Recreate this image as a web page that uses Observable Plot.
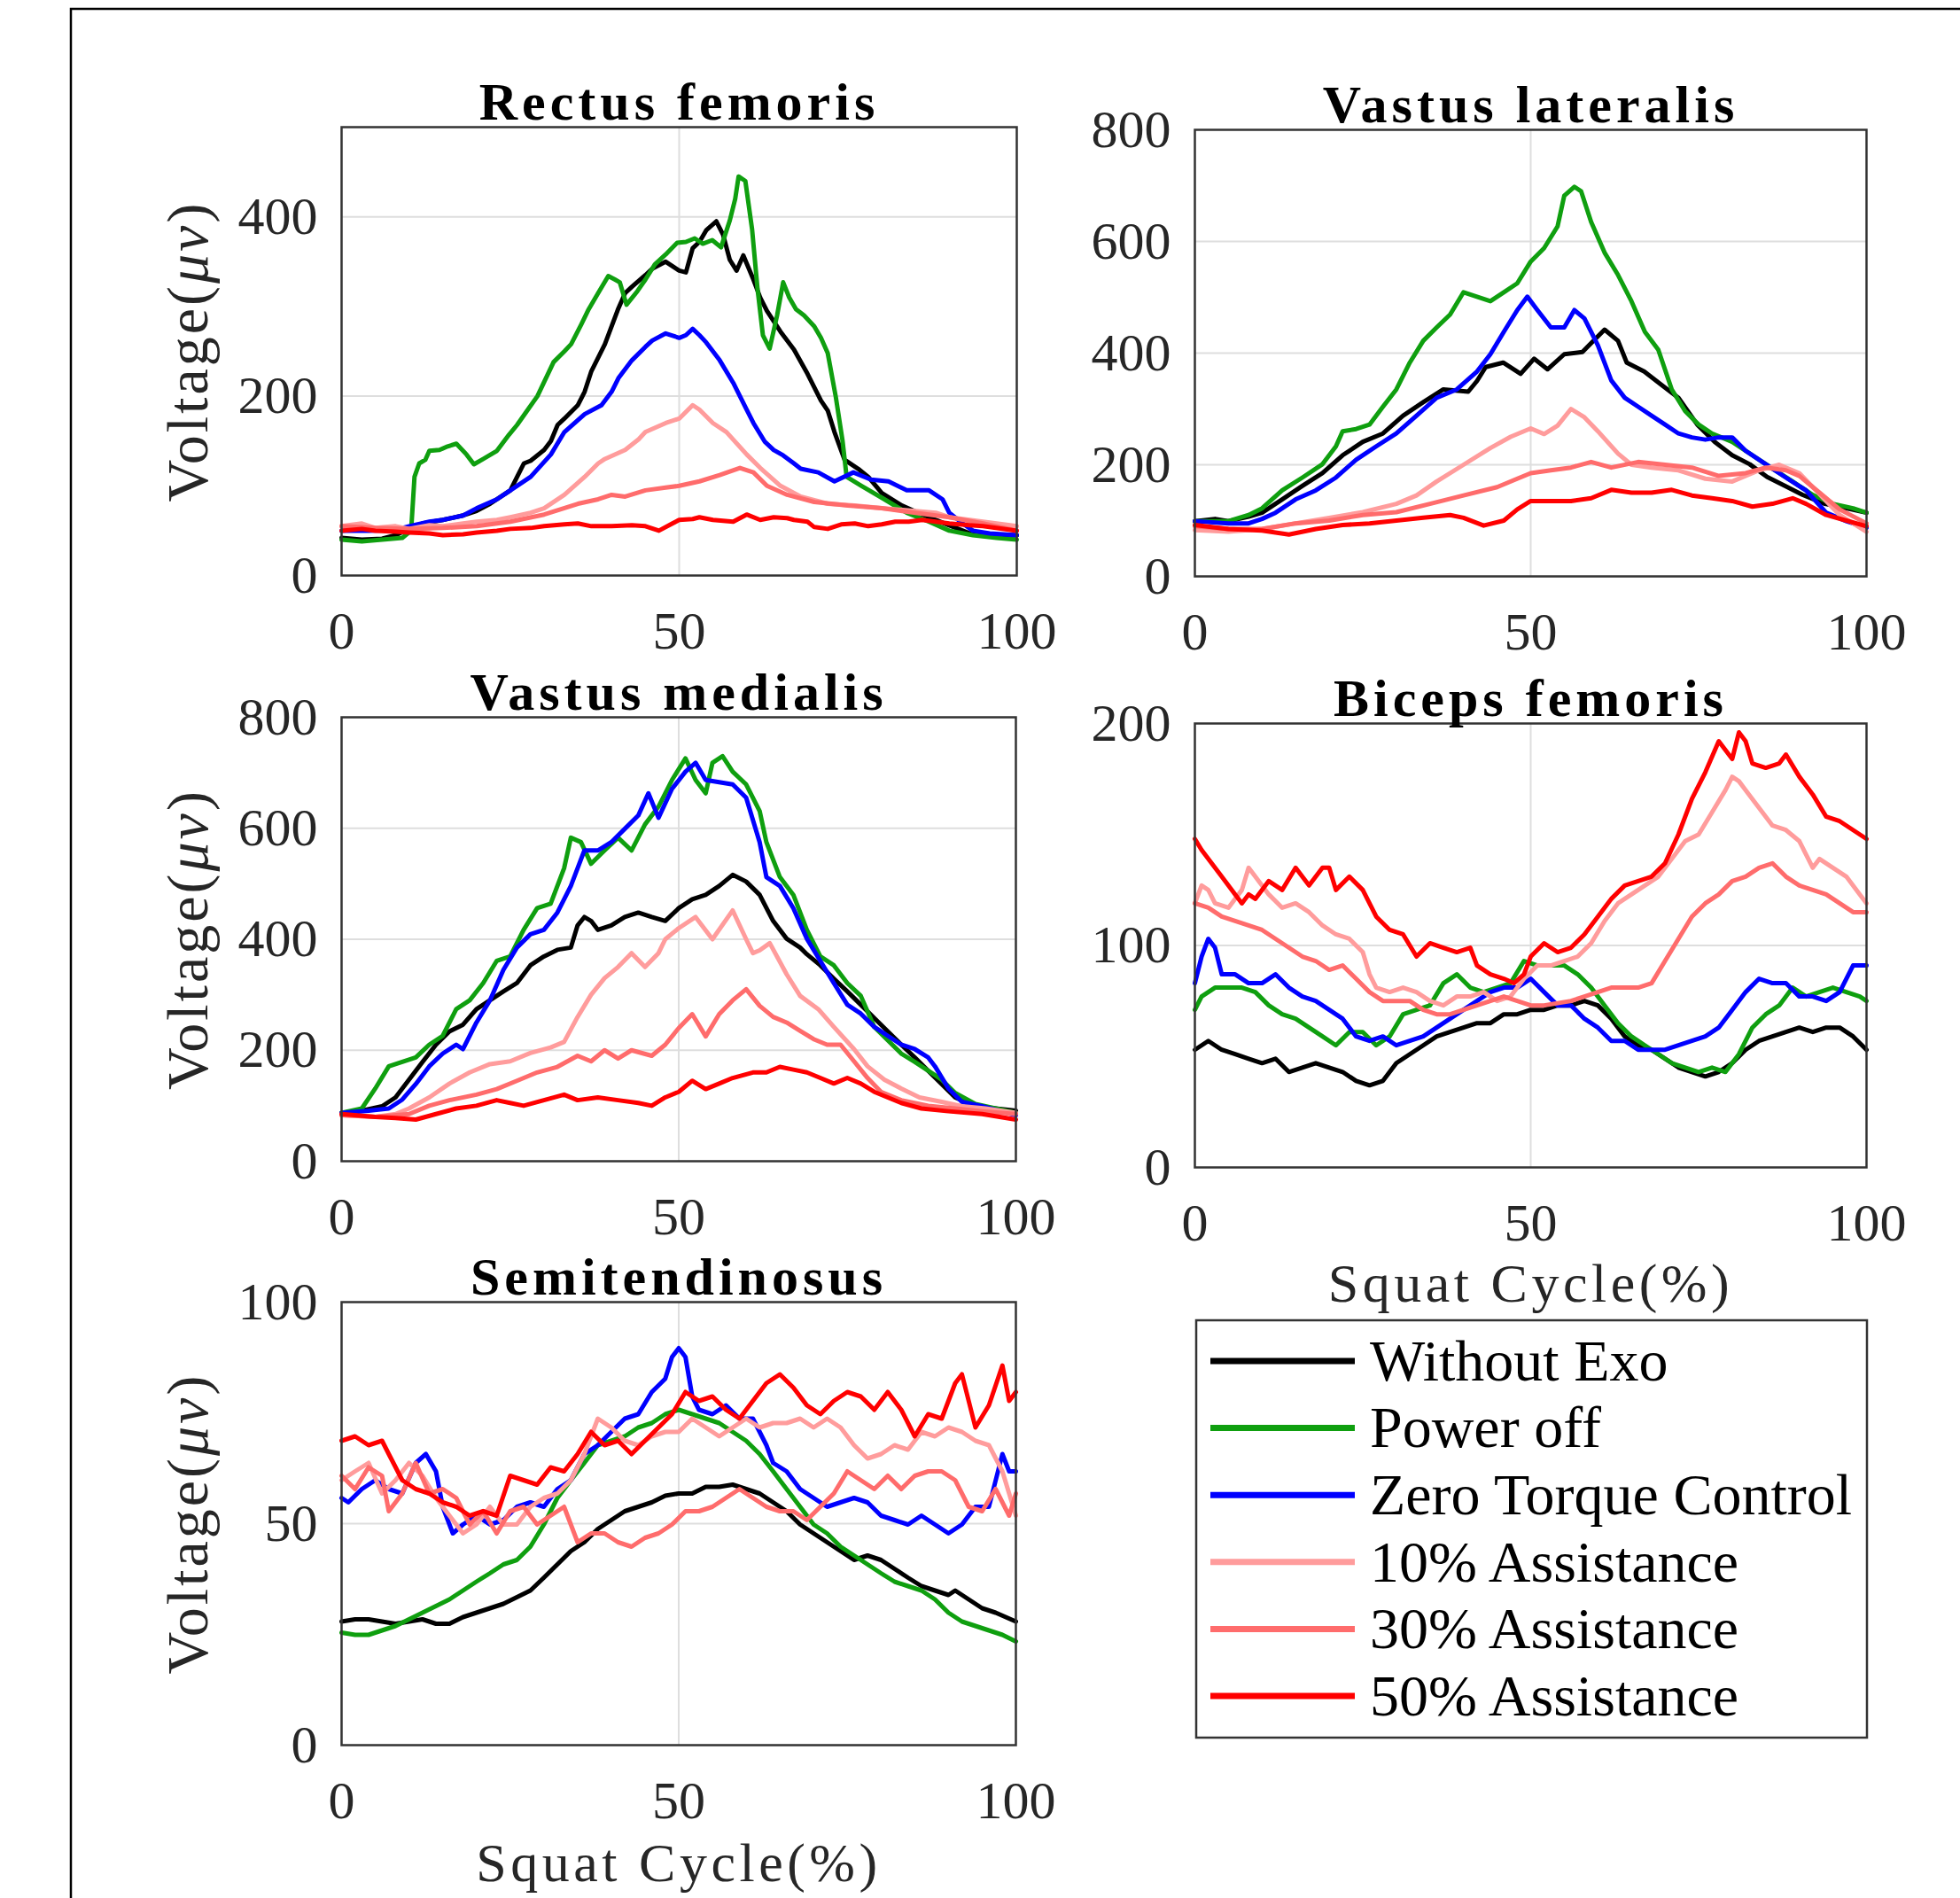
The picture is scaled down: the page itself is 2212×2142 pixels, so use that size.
<!DOCTYPE html>
<html>
<head>
<meta charset="utf-8">
<script src="https://cdn.jsdelivr.net/npm/d3@7"></script>
<script src="https://cdn.jsdelivr.net/npm/@observablehq/plot@0.6"></script>
<style>
  html, body { margin: 0; padding: 0; background: #fff; }
  #root { position: relative; width: 2212px; height: 2142px; overflow: hidden; background: #fff; }
  .panel { position: absolute; }
  #overlay { position: absolute; left: 0; top: 0; }
</style>
</head>
<body>
<div id="root"></div>
<script>
// ---------- categories / styling ----------
const conditions = ["Without Exo", "Power off", "Zero Torque Control", "10% Assistance", "30% Assistance", "50% Assistance"];
const colors = ["#000000", "#0f9f0f", "#0000ff", "#ff9c9c", "#ff6c6c", "#ff0000"];
const xTicks = [0, 50, 100];
const xLabel = "Squat Cycle(%)";
const yLabel = "Voltage(μv)";

// ---------- Rectus femoris ----------
const rfTicks = [0, 200, 400];
const rfWithoutExo = [[0,42],[3,40],[6,41],[8,45],[10,52],[12,58],[15,62],[18,67],[20,72],[22,80],[25,95],[26,110],[27,125],[28,128],[30,140],[31,150],[32,168],[33,175],[35,190],[36,205],[37,228],[39,258],[41,298],[42,315],[43,322],[45,335],[46,342],[48,350],[49,345],[50,340],[51,338],[52,365],[53,372],[54,385],[55.5,395],[56.5,380],[57.5,352],[58.5,340],[59.5,357],[61,330],[62,310],[63,295],[65,272],[67,252],[69,225],[71,195],[72,184],[73,160],[74.5,129],[76.5,119],[78,110],[80,92],[83,78],[86,68],[90,56],[93,47],[96,45],[100,45]];
const rfPowerOff = [[0,40],[3,38],[6,40],[9,42],[10.3,50],[10.8,110],[11.5,125],[12.4,129],[13,139],[14.5,140],[15.7,144],[17,147],[18.5,135],[19.6,124],[21,130],[23,139],[24.8,157],[26,168],[27.5,184],[29,200],[31.4,238],[33,250],[34,258],[35.5,280],[36.6,297],[38,315],[39.5,334],[40.5,330],[41.2,327],[42.2,302],[43.8,317],[45,330],[46.4,347],[48,358],[49.7,371],[51,372],[52.3,376],[53.5,370],[54.9,374],[56.2,366],[57.5,396],[58.3,420],[58.8,445],[59.8,440],[60.8,386],[61.6,320],[62.4,268],[63.4,253],[64.5,290],[65.4,327],[66.3,310],[67.3,297],[68.5,290],[70,278],[71,265],[72,248],[73.2,199],[74.2,150],[74.8,110],[77,100],[80.4,85],[83.7,70],[87,60],[90,50],[93.5,45],[97,42],[100,40]];
const rfZeroTorque = [[0,50],[4,50],[8,51],[10,55],[13,60],[15,62],[18,67],[20,75],[23,85],[25,95],[28,110],[31,135],[33,160],[36,180],[38.5,190],[40,205],[41,220],[43,240],[45,255],[46,262],[48,270],[50,265],[51,268],[52,275],[53,268],[54,260],[56,240],[58,215],[59,200],[60,185],[61,170],[62.7,149],[64,140],[65.4,134],[67,125],[68,119],[70.6,115],[73,105],[75.8,115],[78.4,107],[81,105],[83.7,95],[87,95],[89,85],[90,70],[92,58],[93.5,50],[96,47],[100,45]];
const rfAssist10 = [[0,55],[3,58],[5,53],[8,55],[10,52],[13,56],[15,55],[18,58],[20,60],[23,62],[25,65],[28,70],[30,75],[33,90],[36,110],[38,125],[39,130],[42,140],[44,152],[45,160],[48,170],[50,175],[52,190],[53,185],[55,170],[57,160],[60,135],[62,120],[65,100],[68,88],[72,80],[76,78],[80,75],[85,72],[88,70],[90,65],[95,60],[100,55]];
const rfAssist30 = [[0,55],[5,53],[10,52],[15,53],[20,55],[25,60],[30,68],[35,80],[38,85],[40,90],[42,88],[45,95],[48,98],[50,100],[53,105],[56,112],[59,120],[61,115],[63,100],[66,90],[70,82],[75,78],[80,75],[85,70],[90,65],[95,58],[100,50]];
const rfAssist50 = [[0,50],[3,52],[5,50],[8,49],[10,48],[13,47],[15,45],[18,46],[20,48],[23,50],[25,52],[28,53],[30,55],[33,57],[35,58],[37,55],[40,55],[43,56],[45,55],[47,50],[49,58],[50,62],[52,63],[53,65],[55,62],[58,60],[60,68],[62,62],[64,65],[66,64],[67,62],[69,60],[70,54],[72,52],[74,57],[76,58],[78,55],[80,57],[82,60],[84,60],[86,62],[88,60],[90,58],[93,56],[95,55],[100,50]];

// ---------- Vastus lateralis ----------
const vlTicks = [0, 200, 400, 600, 800];
const vlWithoutExo = [[0,99],[3,103],[5,99],[8,107],[10,114],[13,138],[16,162],[19,185],[22,217],[25,241],[28,256],[31,288],[34,312],[37,335],[40.7,331],[42,350],[43.3,375],[45.9,383],[48.5,363],[50.5,390],[52.5,371],[55,398],[57.7,402],[59,418],[61,442],[63,422],[64.3,383],[66.9,367],[69.5,343],[72,320],[74.8,272],[77.4,241],[80,217],[82.6,201],[85.2,178],[87.9,162],[90.5,146],[93.8,130],[97,122],[100,114]];
const vlPowerOff = [[0,99],[5,99],[8,110],[10,122],[13,154],[16,177],[19,201],[21,233],[22,260],[24,264],[26,272],[28,304],[30,335],[32,383],[34,422],[36,446],[38,469],[40,509],[42,501],[44,493],[46,509],[48,525],[50,564],[52,588],[54,627],[55,682],[56.5,698],[57.5,690],[59,635],[61,580],[63,540],[65,493],[67,438],[69,406],[71,335],[73,296],[75,272],[77,256],[80,241],[83,217],[86,193],[89,170],[92,146],[95,130],[98,122],[100,114]];
const vlZeroTorque = [[0,99],[5,95],[8,95],[10,103],[12,114],[15,138],[18,154],[21,177],[24,209],[27,233],[30,256],[33,288],[36,320],[39,335],[42,367],[44,398],[46,438],[48,477],[49.5,501],[51,477],[53,446],[55,446],[56.5,477],[58,462],[60,414],[62,351],[64,320],[66,304],[68,288],[70,272],[72,256],[74,249],[76,245],[78,249],[80,249],[82,225],[85,201],[88,177],[91,154],[94,114],[97,99],[100,87]];
const vlAssist10 = [[0,83],[5,80],[10,85],[15,95],[20,105],[25,115],[30,130],[33,145],[36,170],[40,200],[44,230],[47,250],[50,265],[52,255],[54,270],[56,300],[58,285],[60,260],[63,220],[65,200],[68,195],[72,190],[76,175],[80,170],[84,190],[87,200],[90,185],[92,160],[96,110],[100,80]];
const vlAssist30 = [[0,90],[5,85],[10,85],[15,95],[20,100],[25,110],[30,115],[35,130],[40,145],[45,160],[48,175],[50,185],[53,190],[56,195],[59,205],[62,195],[66,205],[70,200],[74,195],[78,180],[82,185],[85,195],[88,190],[90,180],[93,150],[96,120],[100,95]];
const vlAssist50 = [[0,92],[5,85],[10,82],[14,75],[18,85],[22,92],[26,95],[30,100],[34,105],[38,110],[40,105],[43,91],[46,100],[48,120],[50,135],[53,135],[56,135],[59,140],[62,155],[65,150],[68,150],[71,155],[74,145],[77,140],[80,135],[83,125],[86,130],[89,140],[91,130],[94,110],[97,100],[100,90]];

// ---------- Vastus medialis ----------
const vmTicks = [0, 200, 400, 600, 800];
const vmWithoutExo = [[0,87],[3,91],[6,99],[8,115],[10,147],[12,179],[14,210],[16,234],[18,246],[20,274],[22,290],[24,306],[26,321],[28,353],[30,369],[32,381],[34,385],[35,425],[36,440],[37,433],[38,417],[40,425],[42,440],[44,448],[46,440],[48,433],[50,456],[52,472],[54,480],[56,496],[58,516],[60,504],[62,480],[64,433],[66,401],[68,385],[69,373],[71,353],[73,329],[75,306],[77,282],[79,258],[81,234],[83,210],[85,187],[87,163],[89,139],[91,115],[94,99],[97,95],[100,91]];
const vmPowerOff = [[0,87],[3,95],[5,131],[7,171],[9,179],[11,187],[13,210],[15,226],[17,274],[19,290],[21,321],[23,361],[25,369],[27,417],[29,456],[31,464],[33,528],[34,583],[35.5,575],[37,536],[39,560],[41,583],[43,560],[45,607],[47,639],[49,687],[51,726],[52.5,687],[54,663],[55,718],[56.5,730],[58,702],[60,679],[62,631],[63,575],[65,512],[67,480],[69,417],[71,369],[73,353],[75,321],[77,298],[79,242],[81,218],[83,194],[85,179],[87,163],[89,147],[91,123],[94,103],[97,95],[100,87]];
const vmZeroTorque = [[0,87],[4,91],[7,95],[9,111],[11,139],[13,171],[15,194],[17,210],[18,202],[20,250],[22,290],[24,345],[26,385],[28,409],[30,417],[32,448],[34,496],[36,560],[38,560],[40,575],[42,599],[44,623],[45.5,663],[47,619],[49,671],[51,702],[52.5,718],[54,687],[56,683],[58,679],[60,655],[62,575],[63,512],[65,496],[67,456],[69,401],[71,361],[73,321],[75,282],[77,266],[79,242],[81,226],[83,210],[85,202],[87,187],[88,171],[90,131],[92,107],[95,99],[100,83]];
const vmAssist10 = [[0,83],[5,80],[8,85],[10,95],[13,115],[16,140],[19,160],[22,175],[25,180],[28,195],[31,205],[33,215],[35,260],[37,300],[39,330],[41,350],[43,375],[45,350],[47,375],[48,400],[50,420],[52.5,440],[55,400],[58,452],[60,400],[61,375],[62,380],[63.5,393],[66,337],[68,298],[70.7,274],[73,242],[76,202],[78,171],[80.5,147],[83,131],[85.7,115],[89,107],[92,99],[95.5,95],[100,87]];
const vmAssist30 = [[0,83],[5,80],[10,85],[13,100],[16,110],[20,120],[23,130],[26,145],[29,160],[32,170],[35,190],[37,180],[39,200],[41,185],[43,200],[46,190],[48,210],[50,240],[52,265],[54,225],[56,265],[58,290],[60,310],[62,280],[64,260],[66,250],[68,235],[70,220],[72,210],[74,210],[76,180],[78,150],[80,125],[83,110],[87,100],[91,95],[95,90],[100,85]];
const vmAssist50 = [[0,85],[5,80],[8,78],[11,75],[14,85],[17,95],[20,100],[23,110],[25,105],[27,100],[30,110],[33,120],[35,110],[38,115],[41,110],[44,105],[46,100],[48,115],[50,125],[52,145],[54,130],[56,140],[58,150],[61,160],[63,160],[65,170],[67,165],[69,160],[71,150],[73,140],[75,150],[77,140],[79,125],[81,115],[83,105],[86,95],[90,90],[95,85],[100,75]];

// ---------- Biceps femoris ----------
const bfTicks = [0, 100, 200];
const bfWithoutExo = [[0,53],[2,57],[4,53],[6,51],[8,49],[10,47],[12,49],[14,43],[16,45],[18,47],[20,45],[22,43],[24,39],[26,37],[28,39],[30,47],[32,51],[34,55],[36,59],[38,61],[40,63],[42,65],[44,65],[46,69],[48,69],[50,71],[52,71],[54,73],[56,73],[58,75],[60,73],[62,67],[64,59],[66,55],[68,53],[70,49],[72,45],[74,43],[76,41],[78,43],[80,47],[82,53],[84,57],[86,59],[88,61],[90,63],[92,61],[94,63],[96,63],[98,59],[100,53]];
const bfPowerOff = [[0,71],[1,77],[3,81],[5,81],[7,81],[9,79],[11,73],[13,69],[15,67],[17,63],[19,59],[21,55],[23,61],[25,61],[27,55],[29,59],[31,69],[33,71],[35,73],[37,83],[39,87],[41,81],[43,79],[45,81],[47,83],[49,93],[51,91],[53,91],[55,91],[57,87],[59,81],[61,73],[63,65],[65,59],[67,55],[69,51],[71,47],[73,45],[75,43],[77,45],[79,43],[81,51],[83,63],[85,69],[87,73],[89,81],[91,77],[93,79],[95,81],[97,79],[99,77],[100,75]];
const bfZeroTorque = [[0,83],[1,95],[2,103],[3,99],[4,87],[6,87],[8,83],[10,83],[12,87],[14,81],[16,77],[18,75],[20,71],[22,67],[24,59],[26,57],[28,59],[30,55],[32,57],[34,59],[36,63],[38,67],[40,71],[42,75],[44,79],[46,81],[48,81],[50,85],[52,79],[54,73],[56,73],[58,67],[60,63],[62,57],[64,57],[66,53],[68,53],[70,53],[72,55],[74,57],[76,59],[78,63],[80,71],[82,79],[84,85],[86,83],[88,83],[90,77],[92,77],[94,75],[96,79],[98,91],[100,91]];
const bfAssist10 = [[0,119],[1,127],[2,125],[3,119],[5,117],[7,125],[8,135],[9,131],[11,123],[13,117],[15,119],[17,115],[19,109],[21,105],[23,103],[25,97],[26,87],[27,81],[29,79],[31,81],[33,79],[35,75],[37,73],[39,77],[41,77],[43,79],[45,75],[47,77],[49,85],[51,91],[53,91],[55,93],[57,95],[59,101],[61,111],[63,119],[65,123],[67,127],[69,131],[71,139],[73,147],[75,150],[77,160],[79,170],[80,176],[81,174],[82,170],[84,162],[86,154],[88,152],[90,147],[92,135],[93,139],[95,135],[97,131],[99,123],[100,119]];
const bfAssist30 = [[0,119],[2,117],[4,113],[6,111],[8,109],[10,107],[12,103],[14,99],[16,95],[18,93],[20,89],[22,91],[24,85],[26,79],[28,75],[30,75],[32,75],[34,71],[36,69],[38,69],[40,71],[42,73],[44,75],[46,77],[48,75],[50,73],[52,73],[54,74],[56,75],[58,77],[60,79],[62,81],[64,81],[66,81],[68,83],[70,93],[72,103],[74,113],[76,119],[78,123],[80,129],[82,131],[84,135],[86,137],[88,131],[90,127],[92,125],[94,123],[96,119],[98,115],[100,115]];
const bfAssist50 = [[0,148],[1,143],[2,139],[3,135],[4,131],[6,123],[7,119],[8,123],[9,121],[11,129],[13,125],[15,135],[17,127],[19,135],[20,135],[21,125],[23,131],[25,125],[27,113],[29,107],[31,105],[33,95],[35,101],[37,99],[39,97],[41,99],[42,91],[44,87],[46,85],[47.5,83],[49,87],[50,95],[52,101],[54,97],[56,99],[58,105],[60,113],[62,121],[64,127],[66,129],[68,131],[70,137],[72,150],[74,166],[76,178],[78,192],[79,188],[80,184],[81,196],[82,192],[83,182],[85,180],[87,182],[88,186],[90,176],[92,168],[94,158],[96,156],[98,152],[100,148]];

// ---------- Semitendinosus ----------
const stTicks = [0, 50, 100];
const stWithoutExo = [[0,27.9],[2,28.4],[4,28.4],[6,27.9],[8,27.4],[10,27.9],[12,28.4],[14,27.4],[16,27.4],[18,28.9],[20,29.9],[22,30.9],[24,31.9],[26,33.4],[28,34.9],[30,37.8],[32,40.8],[34,43.8],[36,45.8],[38,48.8],[40,50.8],[42,52.8],[44,53.8],[46,54.8],[48,56.3],[50,56.8],[52,56.8],[54,58.3],[56,58.3],[58,58.8],[60,57.8],[62,56.8],[64,54.8],[66,52.8],[68,49.8],[70,47.8],[72,45.8],[74,43.8],[76,41.8],[78,42.8],[80,41.8],[82,39.8],[84,37.8],[86,35.9],[88,34.9],[90,33.9],[91,34.9],[93,32.9],[95,30.9],[97,29.9],[100,27.9]];
const stPowerOff = [[0,25.4],[2,24.9],[4,24.9],[6,25.9],[8,26.9],[10,28.4],[12,29.9],[14,31.4],[16,32.9],[18,34.9],[20,36.9],[22,38.8],[24,40.8],[26,41.8],[28,44.8],[30,49.8],[32,55.8],[34,59.8],[36,63.7],[38,67.7],[40,68.7],[42,69.7],[44,71.7],[46,72.7],[48,74.7],[50,75.7],[52,74.7],[54,73.7],[56,72.7],[58,70.7],[60,68.7],[62,65.7],[64,61.8],[66,57.8],[68,53.8],[70,49.8],[72,47.8],[74,44.8],[76,42.8],[78,40.8],[80,38.8],[82,36.9],[84,35.9],[86,34.9],[88,32.9],[90,29.9],[92,27.9],[94,26.9],[96,25.9],[98,24.9],[100,23.4]];
const stZeroTorque = [[0,55.8],[1,54.8],[3,57.8],[5,59.8],[7,57.8],[9,56.8],[11,63.7],[12.5,65.7],[14,61.8],[15,53.8],[16.5,47.8],[18,49.8],[20,51.8],[22,49.8],[24,50.8],[26,53.8],[28,54.8],[30,53.8],[32,57.8],[34,59.8],[36,65.7],[38,67.7],[40,70.7],[42,73.7],[44,74.7],[46,79.7],[48,82.7],[49,87.6],[50,89.6],[51,87.6],[52,78.7],[53,75.7],[55,74.7],[57,76.7],[59,73.7],[61,73.7],[63,67.7],[64,63.7],[66,61.8],[68,57.8],[70,55.8],[72,53.8],[74,54.8],[76,55.8],[78,54.8],[80,51.8],[82,50.8],[84,49.8],[86,51.8],[88,49.8],[90,47.8],[92,49.8],[94,53.8],[96,53.8],[98,65.7],[99,61.8],[100,61.8]];
const stAssist10 = [[0,59.8],[2,61.8],[4,63.7],[6,56.8],[8,59.8],[10,63.7],[12,60.8],[14,55.8],[16,51.8],[18,47.8],[20,49.8],[22,53.8],[24,49.8],[26,49.8],[28,53.8],[30,55.8],[32,56.8],[34,59.8],[36,65.7],[38,73.7],[40,71.7],[42,68.7],[44,67.7],[46,69.7],[48,70.7],[50,70.7],[52,73.7],[54,71.7],[56,69.7],[58,71.7],[60,73.7],[62,71.7],[64,72.7],[66,72.7],[68,73.7],[70,71.7],[72,73.7],[74,71.7],[76,67.7],[78,64.7],[80,65.7],[82,67.7],[84,66.7],[86,70.7],[88,69.7],[90,71.7],[92,70.7],[94,68.7],[96,67.7],[98,61.8],[100,51.8]];
const stAssist30 = [[0,60.8],[2,57.8],[4,62.7],[6,60.8],[7,52.8],[9,56.8],[11,63.7],[13,56.8],[15,57.8],[17,55.8],[19,49.8],[21,52.8],[23,47.8],[25,52.8],[27,53.8],[29,49.8],[31,51.8],[33,53.8],[35,45.8],[37,47.8],[39,47.8],[41,45.8],[43,44.8],[45,46.8],[47,47.8],[49,49.8],[51,52.8],[53,52.8],[55,53.8],[57,55.8],[59,57.8],[61,55.8],[63,53.8],[65,52.8],[67,52.8],[69,50.8],[71,53.8],[73,56.8],[75,61.8],[77,59.8],[79,57.8],[81,60.8],[83,57.8],[85,60.8],[87,61.8],[89,61.8],[91,59.8],[93,53.8],[95,52.8],[97,57.8],[99,51.8],[100,56.8]];
const stAssist50 = [[0,68.7],[2,69.7],[4,67.7],[6,68.7],[7,65.7],[9,59.8],[11,57.8],[13,56.8],[15,54.8],[17,53.8],[19,51.8],[21,52.8],[23,51.8],[25,60.8],[27,59.8],[29,58.8],[31,62.7],[33,61.8],[35,65.7],[37,70.7],[39,67.7],[41,68.7],[43,65.7],[45,68.7],[47,71.7],[49,74.7],[51,79.7],[53,77.7],[55,78.7],[57,75.7],[59,73.7],[61,77.7],[63,81.7],[65,83.7],[67,80.7],[69,76.7],[71,74.7],[73,77.7],[75,79.7],[77,78.7],[79,75.7],[81,79.7],[83,75.7],[85,69.7],[87,74.7],[89,73.7],[91,81.7],[92,83.7],[94,71.7],[96,76.7],[98,85.7],[99,77.7],[100,79.7]];

// ---------- panel definitions (built from the arrays above) ----------
const panels = [
  { title: "Rectus femoris",   yMax: 500, yTicks: rfTicks, series: [rfWithoutExo, rfPowerOff, rfZeroTorque, rfAssist10, rfAssist30, rfAssist50],
    box: {left: 385, top: 143, w: 762, h: 506}, yLab: true,  xLab: false },
  { title: "Vastus lateralis", yMax: 800, yTicks: vlTicks, series: [vlWithoutExo, vlPowerOff, vlZeroTorque, vlAssist10, vlAssist30, vlAssist50],
    box: {left: 1348, top: 146, w: 758, h: 504}, yLab: false, xLab: false },
  { title: "Vastus medialis",  yMax: 800, yTicks: vmTicks, series: [vmWithoutExo, vmPowerOff, vmZeroTorque, vmAssist10, vmAssist30, vmAssist50],
    box: {left: 385, top: 809, w: 761, h: 501}, yLab: true,  xLab: false },
  { title: "Biceps femoris",   yMax: 200, yTicks: bfTicks, series: [bfWithoutExo, bfPowerOff, bfZeroTorque, bfAssist10, bfAssist30, bfAssist50],
    box: {left: 1348, top: 816, w: 758, h: 501}, yLab: false, xLab: true, xLabOff: 151 },
  { title: "Semitendinosus",   yMax: 100, yTicks: stTicks, series: [stWithoutExo, stPowerOff, stZeroTorque, stAssist10, stAssist30, stAssist50],
    box: {left: 385, top: 1469, w: 761, h: 500}, yLab: true,  xLab: true, xLabOff: 153 }
];

const FONT = "'Liberation Serif', 'Times New Roman', Times, serif";
const ML = 240, MR = 80, MT = 120, MB = 180;
const root = document.getElementById("root");

for (const p of panels) {
  const data = p.series.flatMap((s, i) => s.map(([x, y]) => ({x, y, c: conditions[i]})));
  const marks = [
    Plot.gridY(p.yTicks.filter(t => t > 0 && t < p.yMax), {stroke: "#dedede", strokeOpacity: 1, strokeWidth: 2}),
    Plot.gridX([50], {stroke: "#dedede", strokeOpacity: 1, strokeWidth: 2}),
    Plot.line(data, {x: "x", y: "y", z: "c", stroke: "c", strokeWidth: 5, strokeLinejoin: "round"}),
    Plot.axisX(xTicks, {anchor: "bottom", tickSize: 0, tickPadding: 40, label: null, fontSize: 60, color: "#262626"}),
    Plot.axisY(p.yTicks, {anchor: "left", tickSize: 0, tickPadding: 27, label: null, fontSize: 60, color: "#262626"}),
    Plot.frame({stroke: "#333333", strokeWidth: 2.5}),
    Plot.text([p.title], {frameAnchor: "top", dy: -9, lineAnchor: "bottom", textAnchor: "middle", fontWeight: "bold", fontSize: 60, fill: "#000"})
  ];
  if (p.yLab) marks.push(Plot.text([yLabel], {frameAnchor: "left", dx: -173, rotate: -90, lineAnchor: "middle", textAnchor: "middle", fontSize: 66, fill: "#262626"}));
  if (p.xLab) marks.push(Plot.text([xLabel], {frameAnchor: "bottom", dy: p.xLabOff, lineAnchor: "bottom", textAnchor: "middle", fontSize: 62, fill: "#262626"}));

  const svg = Plot.plot({
    width: ML + p.box.w + MR,
    height: MT + p.box.h + MB,
    marginLeft: ML, marginRight: MR, marginTop: MT, marginBottom: MB,
    style: {fontFamily: FONT, fontSize: "60px", background: "transparent", overflow: "visible", maxWidth: "none"},
    x: {domain: [0, 100]},
    y: {domain: [0, p.yMax]},
    color: {domain: conditions, range: colors},
    marks
  });
  // letter spacing for the wide MATLAB-style labels, italic μv
  d3.select(svg).selectAll("text").each(function () {
    const t = this.textContent;
    if (t === p.title) this.style.letterSpacing = "5px";
    if (t === xLabel) this.style.letterSpacing = "4.5px";
    if (t === yLabel) {
      this.textContent = "";
      const s = d3.select(this).style("letter-spacing", "3px");
      s.append("tspan").text("Voltage(");
      s.append("tspan").attr("font-style", "italic").text("μv");
      s.append("tspan").text(")");
    }
  });
  const div = document.createElement("div");
  div.className = "panel";
  div.style.left = (p.box.left - ML) + "px";
  div.style.top = (p.box.top - MT) + "px";
  div.appendChild(svg);
  root.appendChild(div);
}

// ---------- outer frame + legend ----------
const ov = d3.select(root).append("svg").attr("id", "overlay")
  .attr("width", 2212).attr("height", 2142).style("pointer-events", "none");
ov.append("path").attr("d", "M80,2142 V10 H2212").attr("fill", "none").attr("stroke", "#000").attr("stroke-width", 2.5);

const lg = {left: 1350, top: 1490, w: 757, h: 471, row0: 46, rowStep: 75.6, x1: 16, x2: 179, tx: 196};
const g = ov.append("g").attr("transform", `translate(${lg.left},${lg.top})`);
g.append("rect").attr("width", lg.w).attr("height", lg.h).attr("fill", "#fff").attr("stroke", "#333").attr("stroke-width", 2.5);
conditions.forEach((name, i) => {
  const y = lg.row0 + i * lg.rowStep;
  g.append("line").attr("x1", lg.x1).attr("x2", lg.x2).attr("y1", y).attr("y2", y)
    .attr("stroke", colors[i]).attr("stroke-width", 7);
  g.append("text").attr("x", lg.tx).attr("y", y).attr("dy", "0.33em")
    .attr("font-family", FONT).attr("font-size", 66).attr("fill", "#000").text(name);
});
</script>
</body>
</html>
